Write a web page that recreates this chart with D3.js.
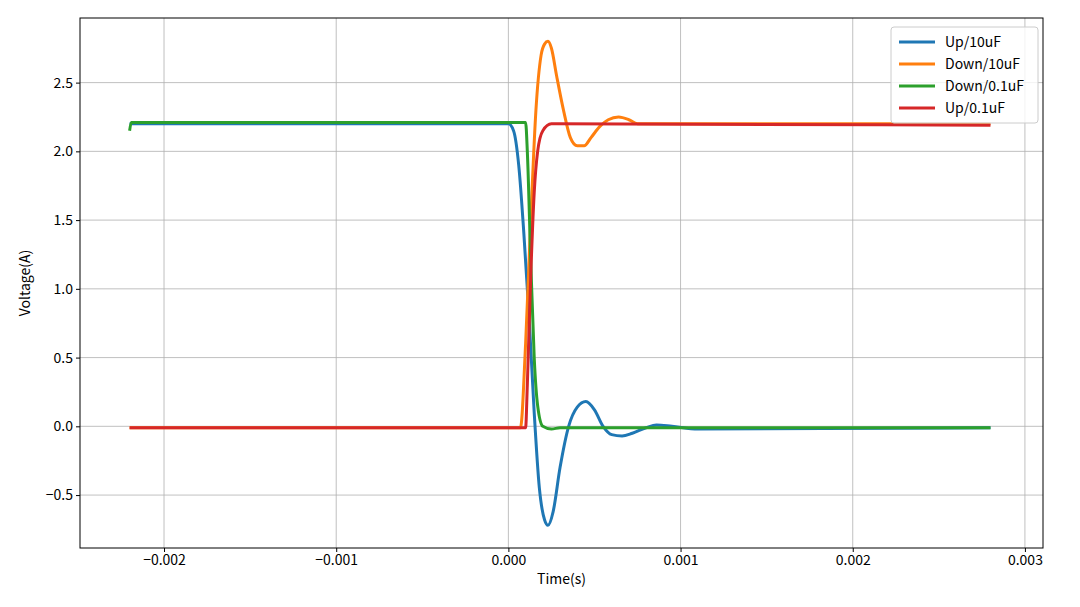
<!DOCTYPE html>
<html><head><meta charset="utf-8">
<script src="https://cdn.jsdelivr.net/npm/d3@7"></script>
<style>body{margin:0;background:#fff}text{font-family:"Noto Sans CJK SC","DejaVu Sans",sans-serif}</style>
</head><body><div id="app"></div>
<script>
// data (time in s, voltage)
const upT10 = [-0.0022, 0.0, 0.00003, 0.00006, 0.00009, 0.00012, 0.00015, 0.00018, 0.00021, 0.00023, 0.00026, 0.0003, 0.00035, 0.0004, 0.00045, 0.0005, 0.00055, 0.0006, 0.00066, 0.00072, 0.0008, 0.00086, 0.00095, 0.0011, 0.0028];
const upV10 = [2.2, 2.2, 2.15, 1.9, 1.4, 0.8, 0.1, -0.45, -0.68, -0.72, -0.62, -0.3, 0.0, 0.14, 0.18, 0.12, 0.0, -0.06, -0.07, -0.05, -0.01, 0.01, 0.0, -0.02, -0.01];
const downT10 = [-0.0022, 0.00007, 0.0001, 0.00013, 0.00016, 0.00019, 0.00021, 0.00023, 0.00025, 0.00028, 0.00032, 0.00036, 0.0004, 0.00044, 0.00048, 0.00053, 0.00058, 0.00064, 0.0007, 0.00075, 0.0028];
const downV10 = [-0.01, -0.01, 0.6, 1.5, 2.3, 2.7, 2.78, 2.8, 2.75, 2.55, 2.3, 2.1, 2.04, 2.04, 2.1, 2.18, 2.23, 2.25, 2.23, 2.2, 2.2];
const downT01 = [-0.0022, -0.00219, 0.0001, 0.00011, 0.00013, 0.00015, 0.00017, 0.0002, 0.00025, 0.0003, 0.0028];
const downV01 = [2.15, 2.21, 2.21, 2.0, 1.2, 0.5, 0.15, 0.0, -0.02, -0.01, -0.01];
const upT01 = [-0.0022, 0.0001, 0.00011, 0.00013, 0.00015, 0.00017, 0.0002, 0.00025, 0.0028];
const upV01 = [-0.01, -0.01, 0.3, 1.1, 1.7, 2.0, 2.15, 2.2, 2.19];

const names = ["Up/10uF", "Down/10uF", "Down/0.1uF", "Up/0.1uF"];
const colors = ["#1f77b4", "#ff7f0e", "#2ca02c", "#d62728"];
const xTicks = [-0.002, -0.001, 0, 0.001, 0.002, 0.003];
const yTicks = [-0.5, 0, 0.5, 1.0, 1.5, 2.0, 2.5];

const series = [[upT10, upV10], [downT10, downV10], [downT01, downV01], [upT01, upV01]]
  .map(([t, v]) => t.map((d, i) => [d, v[i]]));

const W = 1080, H = 607, L = 80, R = 1043, T = 18, B = 548;

const xScale = d3.scaleLinear().domain([-0.002488, 0.003105]).range([L, R]);
const yScale = d3.scaleLinear().domain([-0.885, 2.97]).range([B, T]);

const svg = d3.select('#app').append('svg').attr('width', W).attr('height', H);
const minus = s => s.replace('-', '−');

// grid
svg.append('g').selectAll('line').data(xTicks).enter().append('line')
  .attr('x1', d => xScale(d)).attr('x2', d => xScale(d)).attr('y1', T).attr('y2', B)
  .style('stroke', '#b0b0b0').style('stroke-width', 0.8);
svg.append('g').selectAll('line').data(yTicks).enter().append('line')
  .attr('y1', d => yScale(d)).attr('y2', d => yScale(d)).attr('x1', L).attr('x2', R)
  .style('stroke', '#b0b0b0').style('stroke-width', 0.8);

const line = d3.line().x(d => xScale(d[0])).y(d => yScale(d[1])).curve(d3.curveMonotoneX);
svg.append('g').selectAll('path').data(series).enter().append('path')
  .attr('d', line).style('fill', 'none').style('stroke', (d, i) => colors[i]).style('stroke-width', 3);

const xAxis = svg.append('g').attr('transform', `translate(0,${B})`)
  .call(d3.axisBottom(xScale).tickValues(xTicks).tickFormat(d => minus(d3.format('.3f')(d))).tickSize(4));
const yAxis = svg.append('g').attr('transform', `translate(${L},0)`)
  .call(d3.axisLeft(yScale).tickValues(yTicks).tickFormat(d => minus(d3.format('.1f')(d))).tickSize(4));
[xAxis, yAxis].forEach(a => {
  a.select('.domain').remove();
  a.selectAll('text').style('font-size', '14px').style('fill', '#000');
});
svg.append('rect').attr('x', L).attr('y', T).attr('width', R - L).attr('height', B - T)
  .style('fill', 'none').style('stroke', '#000').style('stroke-width', 1);

svg.append('text').attr('x', (L + R) / 2).attr('y', 584).attr('text-anchor', 'middle')
  .style('font-size', '14px').text('Time(s)');
svg.append('text').attr('transform', `translate(30,${(T + B) / 2}) rotate(-90)`).attr('text-anchor', 'middle')
  .style('font-size', '14px').text('Voltage(A)');

// legend
const lg = svg.append('g').attr('transform', 'translate(891,27)');
lg.append('rect').attr('width', 147).attr('height', 96).attr('rx', 3)
  .style('fill', 'rgba(255,255,255,0.8)').style('stroke', '#ccc');
names.forEach((n, i) => {
  const y = 15 + i * 22;
  lg.append('line').attr('x1', 8).attr('x2', 44).attr('y1', y).attr('y2', y)
    .style('stroke', colors[i]).style('stroke-width', 3);
  lg.append('text').attr('x', 54).attr('y', y + 5).style('font-size', '14px').text(n);
});
</script></body></html>
